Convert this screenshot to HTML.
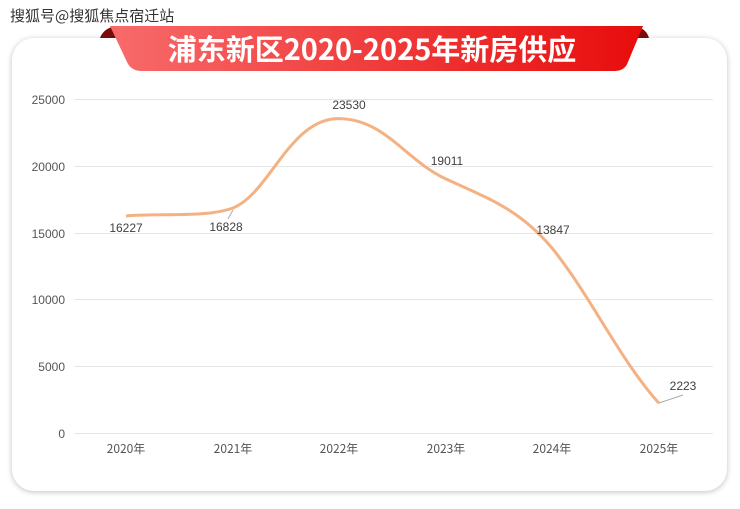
<!DOCTYPE html>
<html><head><meta charset="utf-8"><style>
body{margin:0;width:740px;height:509px;background:#fff;overflow:hidden;font-family:"Liberation Sans","Noto Sans CJK SC",sans-serif;}
.card{position:absolute;left:12px;top:38px;width:715px;height:453px;border-radius:22px;background:#fff;box-shadow:0 1px 6px rgba(0,0,0,0.25);}
svg{position:absolute;left:0;top:0;}
</style></head><body>
<div class="card"></div>
<svg width="740" height="509" viewBox="0 0 740 509">
<defs><linearGradient id="g" x1="0" x2="1"><stop offset="0" stop-color="#f86b6b"/><stop offset="1" stop-color="#e80c0c"/></linearGradient></defs>
<text x="10" y="21" font-size="15" fill="#333" font-family="Noto Sans CJK SC,sans-serif">搜狐号@搜狐焦点宿迁站</text>
<path d="M100 38 Q104 27 118 26 L124 38 Z" fill="#7a0c0c"/>
<path d="M649 38 Q646 27 632 26 L626 38 Z" fill="#7a0c0c"/>
<path d="M110 26 L643 26 L628 62 Q625 71 614 71 L142 71 Q131 71 127 62 Z" fill="url(#g)"/>
<text x="372" y="60" text-anchor="middle" font-size="29" font-weight="bold" fill="#fff" font-family="Noto Sans CJK SC,sans-serif">浦东新区2020-2025年新房供应</text>
<g stroke="#e6e6e6" stroke-width="1">
<line x1="74" x2="713" y1="99.5" y2="99.5"/><line x1="74" x2="713" y1="166.5" y2="166.5"/><line x1="74" x2="713" y1="233.5" y2="233.5"/><line x1="74" x2="713" y1="299.5" y2="299.5"/><line x1="74" x2="713" y1="366.5" y2="366.5"/><line x1="74" x2="713" y1="433.5" y2="433.5"/>
</g>
<g font-size="12" fill="#555" text-anchor="end">
<text x="65" y="104">25000</text><text x="65" y="171">20000</text><text x="65" y="238">15000</text><text x="65" y="304">10000</text><text x="65" y="371">5000</text><text x="65" y="438">0</text>
</g>
<g font-size="12" fill="#555" text-anchor="middle" font-family="Noto Sans CJK SC,sans-serif">
<text x="126" y="453">2020年</text><text x="233" y="453">2021年</text><text x="339" y="453">2022年</text><text x="446" y="453">2023年</text><text x="552" y="453">2024年</text><text x="659" y="453">2025年</text>
</g>
<path d="M126 216 C160 213,205 218,233 208 C270 193,290 118,339 118.6 C385 119,405 160,446 179 C490 199,520 210,552 248 C590 295,620 360,659 403.3" fill="none" stroke="#f4b183" stroke-width="3"/>
<g stroke="#aaa" stroke-width="1"><line x1="228" y1="219" x2="233" y2="210"/><line x1="659" y1="403" x2="683" y2="395"/></g>
<g font-size="12" fill="#404040" text-anchor="middle">
<text x="126" y="232">16227</text><text x="226" y="231">16828</text><text x="349" y="109">23530</text><text x="447" y="165">19011</text><text x="553" y="234">13847</text><text x="683" y="390">2223</text>
</g>
</svg>
</body></html>
